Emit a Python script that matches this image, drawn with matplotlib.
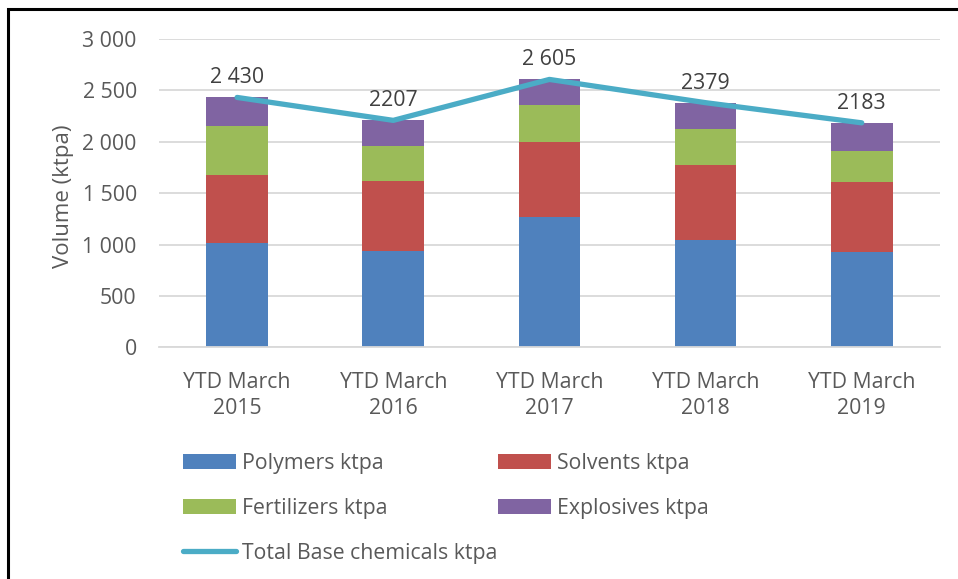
import numpy as np
import matplotlib.pyplot as plt
from matplotlib.patches import Rectangle

# DATA (ktpa)

periods = ["YTD March\n2015", "YTD March\n2016", "YTD March\n2017",
           "YTD March\n2018", "YTD March\n2019"]

polymers = [1012, 937, 1268, 1041, 930]
solvents = [664, 681, 729, 732, 681]
fertilizers = [474, 343, 357, 354, 302]
explosives = [280, 246, 251, 252, 270]

totals = [2430, 2207, 2605, 2379, 2183]
total_labels = ["2 430", "2207", "2 605", "2379", "2183"]

y_ticks = [0, 500, 1000, 1500, 2000, 2500, 3000]
y_tick_labels = ["0", "500", "1 000", "1 500", "2 000", "2 500", "3 000"]

# STYLE

plt.rcParams["font.family"] = ["Open Sans", "DejaVu Sans"]
TEXT = "#595959"
FS = 15.3

fig = plt.figure(figsize=(9.58, 5.79), dpi=100)
ax = fig.add_axes([0.166, 0.400, 0.815, 0.533])

x = np.arange(len(periods))
w = 0.395

b1 = ax.bar(x, polymers, w, color="#4F81BD", label="Polymers ktpa", zorder=2)
bottom = np.array(polymers)
b2 = ax.bar(x, solvents, w, bottom=bottom, color="#C0504D", label="Solvents ktpa", zorder=2)
bottom = bottom + np.array(solvents)
b3 = ax.bar(x, fertilizers, w, bottom=bottom, color="#9BBB59", label="Fertilizers ktpa", zorder=2)
bottom = bottom + np.array(fertilizers)
b4 = ax.bar(x, explosives, w, bottom=bottom, color="#8064A2", label="Explosives ktpa", zorder=2)

ln, = ax.plot(x, totals, color="#4BACC6", lw=3.8, solid_capstyle="round",
              label="Total Base chemicals ktpa", zorder=3)

for xi, yi, lab in zip(x, totals, total_labels):
    ax.annotate(lab, (xi, yi), xytext=(0, 14), textcoords="offset points",
                ha="center", va="center", fontsize=FS, color="#404040")

ax.set_xlim(-0.5, len(periods) - 0.5)
ax.set_ylim(0, 3000)
ax.set_yticks(y_ticks)
ax.set_yticklabels(y_tick_labels)
ax.set_xticks(x)
ax.set_xticklabels(periods, linespacing=1.3)
ax.tick_params(axis="both", length=0, labelsize=FS, labelcolor=TEXT)
ax.tick_params(axis="y", pad=16)
ax.tick_params(axis="x", pad=18)

ax.yaxis.grid(True, color="#D9D9D9", lw=1.3, zorder=0)
for s in ["top", "right", "left"]:
    ax.spines[s].set_visible(False)
ax.spines["bottom"].set_color("#D9D9D9")
ax.spines["bottom"].set_linewidth(1.3)

ax.set_ylabel("Volume (ktpa)", fontsize=FS + 0.7, color=TEXT)
ax.yaxis.set_label_coords(-0.109, 0.49)

# LEGEND (two columns, filled column-wise)

handles = [b1, b3, ln, b2, b4]
labels = [h.get_label() for h in handles]
fig.legend(handles, labels, ncol=2, loc="upper left",
           bbox_to_anchor=(183 / 958, 1 - 453 / 579),
           frameon=False, fontsize=FS, labelcolor=TEXT,
           handlelength=2.5, handleheight=0.75, handletextpad=0.3,
           labelspacing=1.12, columnspacing=0.0, borderpad=0, borderaxespad=0)

# OUTER BORDER

fig.add_artist(Rectangle((8 / 958, -0.05), 1.2, 1 - 9 / 579 + 0.05,
                         transform=fig.transFigure, fill=False,
                         edgecolor="black", lw=2.2))

fig.savefig("out.png", dpi=100)
